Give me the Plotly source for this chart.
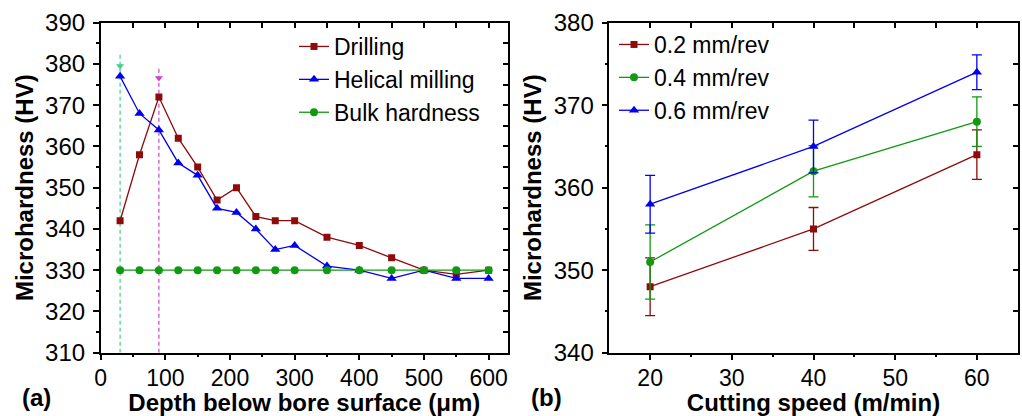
import plotly.graph_objects as go

# ---------------- data: panel (a) ----------------
depth = [30, 60, 90, 120, 150, 180, 210, 240, 270, 300, 350, 400, 450, 500, 550, 600]
drilling = [342, 358, 372, 362, 355, 347, 350, 343, 342, 342, 338, 336, 333, 330, 329, 330]
helical = [377, 368, 364, 356, 353, 345, 344, 340, 335, 336, 331, 330, 328, 330, 328, 328]
bulk = [330, 330, 330, 330, 330, 330, 330, 330, 330, 330, 330, 330, 330, 330, 330, 330]

# peak-depth markers (dashed guide lines)
helical_peak_x = [30, 30]
helical_peak_y = [310, 382.5]
helical_arrow_y = [379.5]
drilling_peak_x = [90, 90]
drilling_peak_y = [310, 379.5]
drilling_arrow_y = [376.6]

# ---------------- data: panel (b) ----------------
speed = [20, 40, 60]
feed_02 = [348, 355, 364]
feed_02_err = [3.5, 2.6, 3.0]
feed_04 = [351, 362, 368]
feed_04_err = [4.5, 3.1, 3.0]
feed_06 = [358, 365, 374]
feed_06_err = [3.5, 3.2, 2.1]

RED = "#8f0a0a"
BLUE = "#0000ee"
GREEN = "#119a11"
GUIDE_GREEN = "#3fcf8f"
GUIDE_MAG = "#cc44cc"
FONT = "Arial, Liberation Sans, sans-serif"

W, H = 1022, 416


def px_x(a, b):
    return [a / W, b / W]


def px_y(top, bottom):
    return [(H - bottom) / H, (H - top) / H]


fig = go.Figure()

# panel (a) traces
fig.add_trace(go.Scatter(x=helical_peak_x, y=helical_peak_y, mode="lines",
                         line=dict(color=GUIDE_GREEN, width=1.2, dash="4px,3px"),
                         showlegend=False, xaxis="x", yaxis="y", hoverinfo="skip"))
fig.add_trace(go.Scatter(x=[helical_peak_x[0]], y=helical_arrow_y, mode="markers",
                         marker=dict(symbol="triangle-down", size=7, color=GUIDE_GREEN),
                         showlegend=False, xaxis="x", yaxis="y", hoverinfo="skip"))
fig.add_trace(go.Scatter(x=drilling_peak_x, y=drilling_peak_y, mode="lines",
                         line=dict(color=GUIDE_MAG, width=1.2, dash="4px,3px"),
                         showlegend=False, xaxis="x", yaxis="y", hoverinfo="skip"))
fig.add_trace(go.Scatter(x=[drilling_peak_x[0]], y=drilling_arrow_y, mode="markers",
                         marker=dict(symbol="triangle-down", size=7, color=GUIDE_MAG),
                         showlegend=False, xaxis="x", yaxis="y", hoverinfo="skip"))

fig.add_trace(go.Scatter(x=depth, y=drilling, name="Drilling", mode="lines+markers",
                         line=dict(color=RED, width=1.3),
                         marker=dict(symbol="square", size=7, color=RED),
                         xaxis="x", yaxis="y", legend="legend"))
fig.add_trace(go.Scatter(x=depth, y=helical, name="Helical milling", mode="lines+markers",
                         line=dict(color=BLUE, width=1.3),
                         marker=dict(symbol="triangle-up", size=9, color=BLUE),
                         xaxis="x", yaxis="y", legend="legend"))
fig.add_trace(go.Scatter(x=depth, y=bulk, name="Bulk hardness", mode="lines+markers",
                         line=dict(color=GREEN, width=1.3),
                         marker=dict(symbol="circle", size=8, color=GREEN),
                         xaxis="x", yaxis="y", legend="legend"))

# panel (b) traces
for name, vals, err, col, sym, sz in [
    ("0.2 mm/rev", feed_02, feed_02_err, RED, "square", 7),
    ("0.4 mm/rev", feed_04, feed_04_err, GREEN, "circle", 8),
    ("0.6 mm/rev", feed_06, feed_06_err, BLUE, "triangle-up", 9),
]:
    fig.add_trace(go.Scatter(x=speed, y=vals, name=name, mode="lines+markers",
                             line=dict(color=col, width=1.3),
                             marker=dict(symbol=sym, size=sz, color=col),
                             error_y=dict(type="data", array=err, visible=True,
                                          color=col, thickness=1.3, width=5),
                             xaxis="x2", yaxis="y2", legend="legend2"))

ytickfont = dict(family=FONT, size=24, color="black")
xtickfont = dict(family=FONT, size=23, color="black")
titlefont = dict(family=FONT, size=24, color="black", weight="bold")

dom_x1 = px_x(100.7, 508)
dom_x2 = px_x(609.3, 1017.7)
dom_y = px_y(22.7, 352.7)

axis_common = dict(showgrid=False, zeroline=False, showline=True, linecolor="black",
                   linewidth=1.5, mirror=True, ticks="outside", ticklen=6,
                   tickwidth=1.5, tickcolor="black", automargin=False)
mirror_common = dict(showgrid=False, zeroline=False, showline=False, showticklabels=False,
                     ticks="inside", ticklen=5, tickwidth=1.5, tickcolor="black",
                     tickmode="linear", automargin=False)

fig.update_layout(
    width=W, height=H,
    margin=dict(l=0, r=0, t=0, b=0, autoexpand=False),
    plot_bgcolor="white", paper_bgcolor="white",
    font=dict(family=FONT, color="black"),
    xaxis=dict(axis_common, domain=dom_x1, anchor="y", range=[0, 630],
               tickvals=[0, 100, 200, 300, 400, 500, 600], tickfont=xtickfont,
               ticklabelstandoff=-2,
               minor=dict(tickvals=[50, 150, 250, 350, 450, 550], ticks="outside",
                          ticklen=3, tickwidth=1.5, tickcolor="black"),
               title=dict(text="Depth below bore surface (μm)", font=titlefont, standoff=0)),
    yaxis=dict(axis_common, domain=dom_y, anchor="x", range=[310, 390],
               tickvals=[310, 320, 330, 340, 350, 360, 370, 380, 390], tickfont=ytickfont,
               ticklabelstandoff=3,
               minor=dict(tickvals=[315, 325, 335, 345, 355, 365, 375, 385], ticks="outside",
                          ticklen=3, tickwidth=1.5, tickcolor="black"),
               title=dict(text="Microhardness (HV)", font=titlefont, standoff=5)),
    xaxis3=dict(mirror_common, domain=dom_x1, anchor="y", overlaying="x", side="top",
                range=[0, 630], tick0=0, dtick=50),
    yaxis3=dict(mirror_common, domain=dom_y, anchor="x", overlaying="y", side="right",
                range=[310, 390], tick0=310, dtick=5),
    xaxis2=dict(axis_common, domain=dom_x2, anchor="y2", range=[15, 65],
                tickvals=[20, 30, 40, 50, 60], tickfont=xtickfont,
                ticklabelstandoff=-2,
                minor=dict(tickvals=[25, 35, 45, 55], ticks="outside",
                           ticklen=3, tickwidth=1.5, tickcolor="black"),
                title=dict(text="Cutting speed (m/min)", font=titlefont, standoff=0)),
    yaxis2=dict(axis_common, domain=dom_y, anchor="x2", range=[340, 380],
                tickvals=[340, 350, 360, 370, 380], tickfont=ytickfont,
                ticklabelstandoff=3,
                minor=dict(tickvals=[345, 355, 365, 375], ticks="outside",
                           ticklen=3, tickwidth=1.5, tickcolor="black"),
                title=dict(text="Microhardness (HV)", font=titlefont, standoff=5)),
    xaxis4=dict(mirror_common, domain=dom_x2, anchor="y2", overlaying="x2", side="top",
                range=[15, 65], tick0=15, dtick=5),
    yaxis4=dict(mirror_common, domain=dom_y, anchor="x2", overlaying="y2", side="right",
                range=[340, 380], tick0=340, dtick=5),
    legend=dict(x=294 / W, y=(H - 25) / H, xanchor="left", yanchor="top",
                bgcolor="rgba(0,0,0,0)", borderwidth=0,
                font=dict(family=FONT, size=23, color="black"), tracegroupgap=0),
    legend2=dict(x=614 / W, y=(H - 23) / H, xanchor="left", yanchor="top",
                 bgcolor="rgba(0,0,0,0)", borderwidth=0,
                 font=dict(family=FONT, size=23, color="black"), tracegroupgap=0),
    annotations=[
        dict(text="(a)", x=36 / W, y=(H - 397) / H, xref="paper", yref="paper",
             xanchor="center", yanchor="middle", showarrow=False,
             font=dict(family=FONT, size=24, color="black", weight="bold")),
        dict(text="(b)", x=546 / W, y=(H - 397) / H, xref="paper", yref="paper",
             xanchor="center", yanchor="middle", showarrow=False,
             font=dict(family=FONT, size=24, color="black", weight="bold")),
    ],
)

# anchor invisible traces on mirror axes so they render
fig.add_trace(go.Scatter(x=[None], y=[None], xaxis="x3", yaxis="y", showlegend=False, hoverinfo="skip"))
fig.add_trace(go.Scatter(x=[None], y=[None], xaxis="x", yaxis="y3", showlegend=False, hoverinfo="skip"))
fig.add_trace(go.Scatter(x=[None], y=[None], xaxis="x4", yaxis="y2", showlegend=False, hoverinfo="skip"))
fig.add_trace(go.Scatter(x=[None], y=[None], xaxis="x2", yaxis="y4", showlegend=False, hoverinfo="skip"))

fig.write_html("out.html", config={"displayModeBar": False},
               post_script="document.body.style.margin='0';")
